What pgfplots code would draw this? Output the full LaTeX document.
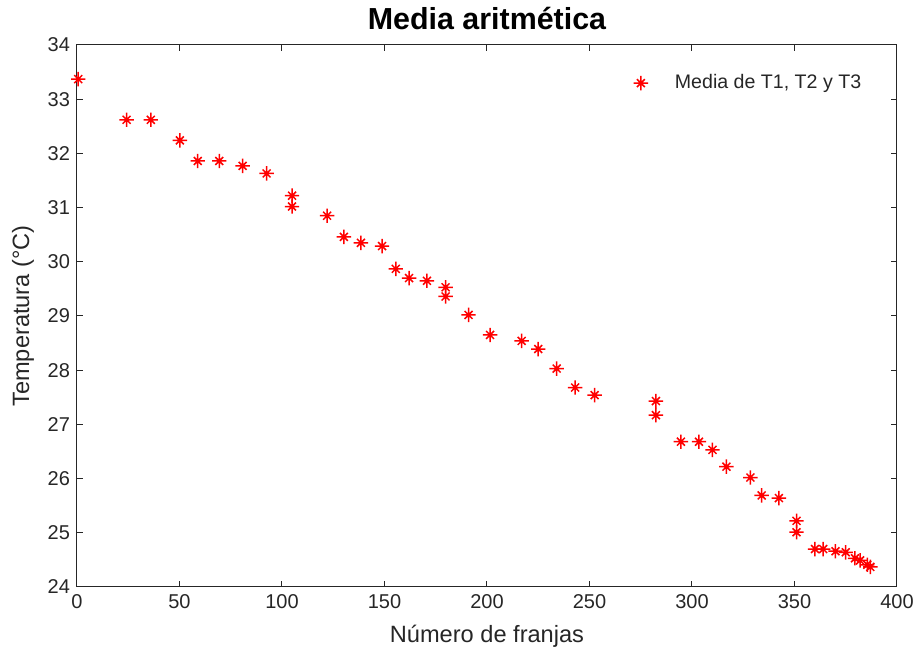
\documentclass[border=0pt]{standalone}
\usepackage{pgfplots}
\pgfplotsset{compat=1.18}
\usepackage{fontspec}
\setmainfont{Liberation Sans}
\definecolor{mgray}{RGB}{38,38,38}
\pgfdeclareplotmark{mstar}{%
 \pgfpathmoveto{\pgfqpoint{-\pgfplotmarksize}{0pt}}\pgfpathlineto{\pgfqpoint{\pgfplotmarksize}{0pt}}%
 \pgfpathmoveto{\pgfqpoint{0pt}{-\pgfplotmarksize}}\pgfpathlineto{\pgfqpoint{0pt}{\pgfplotmarksize}}%
 \pgfpathmoveto{\pgfqpoint{-0.55\pgfplotmarksize}{-0.55\pgfplotmarksize}}\pgfpathlineto{\pgfqpoint{0.55\pgfplotmarksize}{0.55\pgfplotmarksize}}%
 \pgfpathmoveto{\pgfqpoint{-0.55\pgfplotmarksize}{0.55\pgfplotmarksize}}\pgfpathlineto{\pgfqpoint{0.55\pgfplotmarksize}{-0.55\pgfplotmarksize}}%
 \pgfusepathqstroke}
\begin{document}
\begin{tikzpicture}
\useasboundingbox (-38.5pt,-35pt) rectangle (420pt,293.5pt);
\begin{axis}[
  at={(0,0)}, anchor=south west,
  scale only axis, width=410pt, height=271pt,
  xmin=0, xmax=400, ymin=24, ymax=34,
  xtick={0,50,...,400}, ytick={24,25,...,34},
  tick align=inside, tick pos=both,
  major tick length=3pt,
  axis line style={mgray, line width=0.5pt},
  every tick/.style={mgray, line width=0.5pt},
  ticklabel style={font=\fontsize{10}{12}\selectfont, text=mgray},
  /pgf/number format/assume math mode=true,
  xlabel={Número de franjas},
  ylabel={Temperatura (°C)},
  label style={font=\fontsize{11.8}{14}\selectfont, text=mgray},
  xlabel style={yshift=-1.5pt},
  title={Media aritmética},
  title style={font=\fontsize{15.2}{17}\selectfont\bfseries, text=black, yshift=-2pt},
  legend style={draw=none, fill=none, at={(0.969,0.961)}, anchor=north east,
    font=\fontsize{9.8}{11}\selectfont, text=mgray},
  legend image code/.code={\draw[#1] plot coordinates {(0pt,0pt)}; \path[draw=none] (15pt,0pt);},
  legend cell align=left,
]
\addplot[only marks, mark=mstar, mark size=3.6pt, red, line width=0.75pt] coordinates {
(0.6,33.37) (24.2,32.62) (36,32.62) (50.2,32.24) (58.9,31.86) (69.4,31.86)
(80.8,31.77) (92.5,31.63) (104.9,31.22) (104.9,31.02) (122,30.85) (130.2,30.46)
(138.5,30.35) (148.8,30.29) (155.5,29.87) (162,29.70) (170.7,29.65) (179.8,29.53)
(179.8,29.36) (191,29.02) (201.5,28.65) (216.9,28.54) (225,28.39) (234,28.03)
(243,27.68) (252.5,27.54) (282.4,27.43) (282.4,27.17) (294.6,26.68) (303.4,26.68)
(310,26.53) (316.8,26.22) (328.5,26.02) (334,25.69) (342.4,25.64) (351,25.22)
(351,25.01) (360,24.70) (364,24.70) (370,24.66) (375,24.64) (379.5,24.53)
(382,24.49) (385.5,24.41) (387,24.37)
};
\addlegendentry{Media de T1, T2 y T3}
\end{axis}
\end{tikzpicture}
\end{document}
